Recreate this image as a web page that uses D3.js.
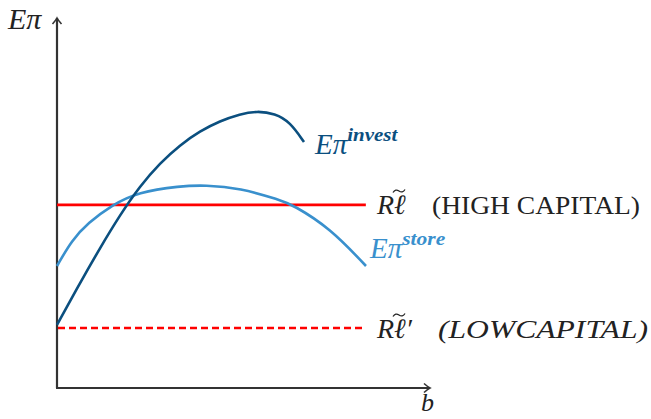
<!DOCTYPE html>
<html lang="en">
<head>
    <meta charset="utf-8">
    <title>Expected profit: invest vs store</title>
    <script src="https://d3js.org/d3.v7.min.js" charset="utf-8"></script>
    <style>
        body { margin: 0; background: #fff; }
        text { font-family: "Liberation Serif", "DejaVu Serif", serif; }
    </style>
</head>
<body>

<script>

    var w = 651;
    var h = 419;

    // curve points (b, expected profit)
    var bInvest     = [0, 0.617, 1.153, 1.689, 2.225, 2.761, 3.298, 3.834, 4.370, 4.906, 5.362, 5.845, 6.247, 6.622];
    var investVals  = [1.703, 2.838, 3.784, 4.676, 5.459, 6.081, 6.568, 6.946, 7.216, 7.405, 7.486, 7.419, 7.189, 6.649];
    var bStore      = [0, 0.402, 0.831, 1.475, 2.172, 3.298, 3.968, 4.906, 5.979, 6.327, 7.319, 8.284];
    var storeVals   = [3.297, 4.000, 4.459, 4.946, 5.297, 5.459, 5.486, 5.405, 5.081, 4.946, 4.324, 3.297];
    var highCapital = 4.95;   // R l~
    var lowCapital  = 1.62;   // R l~'
    var bLineEnd    = 8.28;   // where the two red lines stop

    var svg = d3.select("body")
        .append("svg")
        .attr("width", w)
        .attr("height", h);

    var x = d3.scaleLinear().domain([0, 10]).range([57, 430]);
    var y = d3.scaleLinear().domain([0, 10]).range([388, 18]);

    var axisCol = "#333";
    var investCol = "#0b4f7f";
    var storeCol = "#3990cd";
    var txtCol = "#222";

    // arrow heads (latex style)
    var defs = svg.append("defs");
    defs.append("marker")
        .attr("id", "arr")
        .attr("viewBox", "-8 -6 10 12")
        .attr("refX", 0).attr("refY", 0)
        .attr("markerWidth", 10).attr("markerHeight", 12)
        .attr("markerUnits", "userSpaceOnUse")
        .attr("orient", "auto")
        .append("path")
        .attr("d", "M-6,-4.5 Q-2,-1 0,0 Q-2,1 -6,4.5")
        .attr("fill", "none")
        .attr("stroke", axisCol)
        .attr("stroke-width", 1.6);

    // axes
    svg.append("line")
        .attr("x1", x(0)).attr("y1", y(0))
        .attr("x2", x(0)).attr("y2", y(10))
        .attr("stroke", axisCol).attr("stroke-width", 2.2)
        .attr("marker-end", "url(#arr)");
    svg.append("line")
        .attr("x1", x(0) - 1).attr("y1", y(0))
        .attr("x2", x(10)).attr("y2", y(0))
        .attr("stroke", axisCol).attr("stroke-width", 2.2)
        .attr("marker-end", "url(#arr)");

    // red capital lines
    svg.append("line")
        .attr("x1", x(0)).attr("y1", y(highCapital))
        .attr("x2", x(bLineEnd)).attr("y2", y(highCapital))
        .attr("stroke", "#ff0000").attr("stroke-width", 2.6);
    svg.append("line")
        .attr("x1", x(0) + 1).attr("y1", y(lowCapital))
        .attr("x2", x(bLineEnd)).attr("y2", y(lowCapital))
        .attr("stroke", "#ff0000").attr("stroke-width", 2.6)
        .attr("stroke-dasharray", "7,4");

    var line = d3.line()
        .x(function(d) { return x(d[0]); })
        .y(function(d) { return y(d[1]); })
        .curve(d3.curveBasis);

    svg.append("path")
        .datum(d3.zip(bStore, storeVals))
        .attr("d", line)
        .attr("fill", "none")
        .attr("stroke", storeCol)
        .attr("stroke-width", 2.6);

    svg.append("path")
        .datum(d3.zip(bInvest, investVals))
        .attr("d", line)
        .attr("fill", "none")
        .attr("stroke", investCol)
        .attr("stroke-width", 2.6);

    // labels
    function label(px, py, col, size) {
        return svg.append("text")
            .attr("x", px).attr("y", py)
            .attr("fill", col)
            .attr("font-size", size);
    }

    // tilde accent drawn as a small wave
    function tilde(px, py) {
        svg.append("path")
            .attr("d", "M" + px + "," + (py + 1.5) + " q2.5,-4 6,-1.5 t6,-1.5")
            .attr("fill", "none")
            .attr("stroke", txtCol)
            .attr("stroke-width", 1.3);
    }

    label(8, 29, txtCol, 30).attr("font-style", "italic").text("Eπ");

    label(421, 411, txtCol, 26).attr("font-style", "italic").text("b");

    var t = label(315, 154, investCol, 29).attr("font-style", "italic");
    t.append("tspan").text("Eπ");
    t.append("tspan").attr("dy", -13).attr("font-size", 18).attr("font-weight", "bold")
        .attr("textLength", 50).attr("lengthAdjust", "spacingAndGlyphs").text("invest");

    t = label(370, 258, storeCol, 29).attr("font-style", "italic");
    t.append("tspan").text("Eπ");
    t.append("tspan").attr("dy", -13).attr("font-size", 18).attr("font-weight", "bold")
        .attr("textLength", 43).attr("lengthAdjust", "spacingAndGlyphs").text("store");

    // R l~ (HIGH CAPITAL)
    label(377, 214, txtCol, 28).attr("font-style", "italic").text("Rℓ");
    tilde(393, 191);
    label(432, 214, txtCol, 25)
        .attr("textLength", 208).attr("lengthAdjust", "spacingAndGlyphs")
        .text("(HIGH CAPITAL)");

    // R l~' (LOW CAPITAL)
    label(377, 338, txtCol, 28).attr("font-style", "italic").text("Rℓ′");
    tilde(393, 315);
    label(438, 338, txtCol, 25).attr("font-style", "italic")
        .attr("textLength", 210).attr("lengthAdjust", "spacingAndGlyphs")
        .text("(LOWCAPITAL)");

</script>
</body>
</html>
